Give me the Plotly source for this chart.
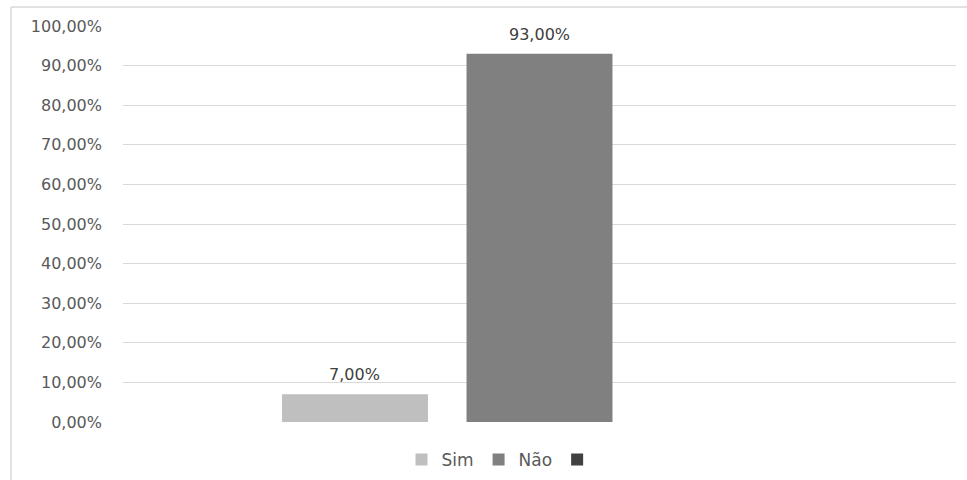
import plotly.graph_objects as go

categories = ["Total"]
series_names = ["Sim", "Não", ""]
series_values = [[0.07], [0.93], [None]]
series_colors = ["#BFBFBF", "#808080", "#404040"]
tick_values = [0, 0.1, 0.2, 0.3, 0.4, 0.5, 0.6, 0.7, 0.8, 0.9, 1.0]
tick_labels = ["0,00%", "10,00%", "20,00%", "30,00%", "40,00%", "50,00%",
               "60,00%", "70,00%", "80,00%", "90,00%", "100,00%"]

W, H = 967, 480
ML, MR, MT, MB = 123, 11, 26, 58
BARGAP, BARGROUPGAP = 0.3355, 0.209
FONT = "DejaVu Sans, Verdana, sans-serif"

pw = W - ML - MR
ph = H - MT - MB
slot = pw * (1 - BARGAP) / len(series_names)

fig = go.Figure()
annotations = []
for i, (name, vals, col) in enumerate(zip(series_names, series_values, series_colors)):
    fig.add_trace(go.Bar(
        x=categories, y=vals, name=name, marker=dict(color=col, line=dict(width=0)),
        hoverinfo="skip",
    ))
    for ci, v in enumerate(vals):
        if v is None:
            continue
        annotations.append(dict(
            x=ci, y=v, xref="x", yref="y", showarrow=False,
            text=("%.2f%%" % (v * 100)).replace(".", ","),
            xanchor="center", yanchor="bottom",
            xshift=(i - (len(series_names) - 1) / 2) * slot, yshift=8,
            font=dict(family=FONT, size=16, color="#404040"),
        ))

fig.update_layout(
    width=W, height=H,
    margin=dict(l=ML, r=MR, t=MT, b=MB, pad=0, autoexpand=False),
    paper_bgcolor="white", plot_bgcolor="white",
    barmode="group", bargap=BARGAP, bargroupgap=BARGROUPGAP,
    showlegend=True,
    legend=dict(orientation="h", x=0.455, xanchor="center",
                yref="container", y=20 / H, yanchor="middle",
                font=dict(family=FONT, size=17, color="#595959"),
                itemwidth=30, traceorder="normal", tracegroupgap=0),
    xaxis=dict(showticklabels=False, showgrid=False, zeroline=False, showline=False,
               range=[-0.5, len(categories) - 0.5]),
    yaxis=dict(range=[0, 1.0], tickvals=tick_values, ticktext=tick_labels,
               showgrid=True, gridcolor="#D9D9D9", gridwidth=1,
               zeroline=False, showline=False, ticks="", ticklabelstandoff=20,
               tickfont=dict(family=FONT, size=16, color="#595959")),
    annotations=annotations,
    shapes=[
        dict(type="line", xref="paper", yref="paper",
             x0=(11 - ML) / pw, x1=(W - ML) / pw,
             y0=(H - MB - 7) / ph, y1=(H - MB - 7) / ph,
             line=dict(color="#D9D9D9", width=1.5)),
        dict(type="line", xref="paper", yref="paper",
             x0=(11 - ML) / pw, x1=(11 - ML) / pw,
             y0=(H - MB - 7) / ph, y1=-MB / ph,
             line=dict(color="#D9D9D9", width=1.5)),
    ],
)
fig.write_html("out.html")
